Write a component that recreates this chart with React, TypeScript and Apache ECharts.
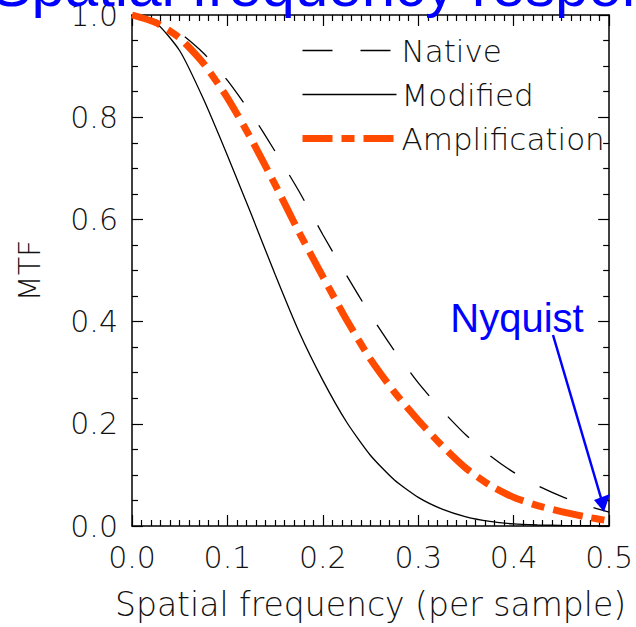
import React, { useEffect, useRef } from "react";
import * as echarts from "echarts";

const freq = [0, 0.025, 0.05, 0.075, 0.1, 0.125, 0.15, 0.175, 0.2, 0.225, 0.25, 0.275, 0.3, 0.325, 0.35, 0.375, 0.4, 0.425, 0.45, 0.475, 0.5];
const nativeMTF = [1.0, 0.99, 0.965, 0.925, 0.872, 0.807, 0.733, 0.655, 0.57, 0.49, 0.413, 0.343, 0.28, 0.226, 0.178, 0.138, 0.105, 0.079, 0.058, 0.041, 0.027];
const modifiedMTF = [1.0, 0.985, 0.93, 0.835, 0.725, 0.61, 0.492, 0.38, 0.285, 0.203, 0.138, 0.09, 0.056, 0.033, 0.018, 0.009, 0.004, 0.002, 0.001, 0.0005, 0.0];
const amplificationMTF = [1.0, 0.985, 0.955, 0.905, 0.838, 0.757, 0.668, 0.575, 0.488, 0.403, 0.326, 0.262, 0.207, 0.157, 0.113, 0.08, 0.056, 0.04, 0.028, 0.018, 0.01];
const seriesNames = ["Native", "Modified", "Amplification"];
const titleText = "Spatial frequency response";
const xAxisTitle = "Spatial frequency (per sample)";
const yAxisTitle = "MTF";
const annotationText = "Nyquist";

const FONT = "'DejaVu Sans', sans-serif";
const TXT = "#111";
const ORANGE = "#FF4A00";

export default function App() {
  const ref = useRef<HTMLDivElement>(null);
  useEffect(() => {
    if (!ref.current) return;
    const chart = echarts.init(ref.current, null, { renderer: "svg" });
    const pair = (ys: number[]) => freq.map((f, i) => [f, ys[i]]);
    const tickLabel = { fontFamily: FONT, fontSize: 30, fontWeight: 200, color: TXT };
    const axisLine = { show: true, onZero: false, lineStyle: { color: "#000", width: 1.5 } };
    const tick = { show: true, inside: true, length: 11, lineStyle: { color: "#000", width: 1.2 } };
    const nativeDash = [30, 28];
    const ampDash = [30, 9, 13, 9];
    chart.setOption({
      animation: false,
      backgroundColor: "#fff",
      grid: { left: 132, top: 13, right: 23, bottom: 101, containLabel: false },
      legend: {
        orient: "vertical",
        left: 294,
        top: 30,
        itemWidth: 94,
        itemHeight: 14,
        itemGap: 13,
        itemStyle: { opacity: 0 },
        data: [
          { name: seriesNames[0], lineStyle: { color: "#000", width: 1.3, type: nativeDash } },
          { name: seriesNames[1], lineStyle: { color: "#000", width: 1.3, type: "solid" } },
          { name: seriesNames[2], lineStyle: { color: ORANGE, width: 7, type: ampDash } },
        ],
        textStyle: { fontFamily: FONT, fontSize: 31, fontWeight: 200, color: TXT, lineHeight: 30 },
      },
      xAxis: [
        {
          type: "value",
          min: 0,
          max: 0.5,
          interval: 0.1,
          position: "bottom",
          axisLine,
          axisTick: tick,
          minorTick: { show: true, splitNumber: 10, length: 6, lineStyle: { color: "#000", width: 1.2 } },
          splitLine: { show: false },
          axisLabel: { ...tickLabel, margin: 16, formatter: (v: number) => v.toFixed(1) },
          name: xAxisTitle,
          nameLocation: "middle",
          nameGap: 62,
          nameTextStyle: { fontFamily: FONT, fontSize: 33, fontWeight: 200, color: TXT },
        },
        {
          type: "value",
          min: 0,
          max: 0.5,
          interval: 0.1,
          position: "top",
          axisLine,
          axisTick: tick,
          minorTick: { show: true, splitNumber: 10, length: 6, lineStyle: { color: "#000", width: 1.2 } },
          splitLine: { show: false },
          axisLabel: { show: false },
        },
      ],
      yAxis: [
        {
          type: "value",
          min: 0,
          max: 1,
          interval: 0.2,
          position: "left",
          axisLine,
          axisTick: tick,
          minorTick: { show: true, splitNumber: 4, length: 6, lineStyle: { color: "#000", width: 1.2 } },
          splitLine: { show: false },
          axisLabel: { ...tickLabel, margin: 14, formatter: (v: number) => v.toFixed(1) },
          name: yAxisTitle,
          nameLocation: "middle",
          nameGap: 88,
          nameTextStyle: { fontFamily: FONT, fontSize: 30, fontWeight: 200, color: TXT },
        },
        {
          type: "value",
          min: 0,
          max: 1,
          interval: 0.2,
          position: "right",
          axisLine,
          axisTick: tick,
          minorTick: { show: true, splitNumber: 4, length: 6, lineStyle: { color: "#000", width: 1.2 } },
          splitLine: { show: false },
          axisLabel: { show: false },
        },
      ],
      series: [
        {
          name: seriesNames[0],
          type: "line",
          data: pair(nativeMTF),
          symbol: "none",
          smooth: 0.2,
          lineStyle: { color: "#000", width: 1.3, type: nativeDash },
          itemStyle: { color: "#000" },
          z: 3,
        },
        {
          name: seriesNames[1],
          type: "line",
          data: pair(modifiedMTF),
          symbol: "none",
          smooth: 0.2,
          lineStyle: { color: "#000", width: 1.3, type: "solid" },
          itemStyle: { color: "#000" },
          z: 3,
        },
        {
          name: seriesNames[2],
          type: "line",
          data: pair(amplificationMTF),
          symbol: "none",
          smooth: 0.2,
          lineStyle: { color: ORANGE, width: 7, type: ampDash },
          itemStyle: { color: ORANGE },
          z: 4,
        },
      ],
      graphic: [
        {
          type: "text",
          x: 355,
          y: -15,
          style: {
            text: titleText,
            fill: "#0000FF",
            font: "60px 'Liberation Sans', Arial, sans-serif",
            textAlign: "center",
            textVerticalAlign: "middle",
          },
          z: 10,
        },
        {
          type: "text",
          x: 517,
          y: 318,
          style: {
            text: annotationText,
            fill: "#0000FF",
            font: "40px 'Liberation Sans', Arial, sans-serif",
            textAlign: "center",
            textVerticalAlign: "middle",
          },
          z: 10,
        },
        {
          type: "line",
          shape: { x1: 553, y1: 335, x2: 601, y2: 498 },
          style: { stroke: "#0000FF", lineWidth: 2.5 },
          z: 10,
        },
        {
          type: "polygon",
          shape: { points: [[594, 500], [610, 494], [604, 512]] },
          style: { fill: "#0000FF" },
          z: 10,
        },
      ],
    });
    return () => chart.dispose();
  }, []);
  return <div ref={ref} style={{ width: 636, height: 627, position: "absolute", left: 0, top: 0 }} />;
}
